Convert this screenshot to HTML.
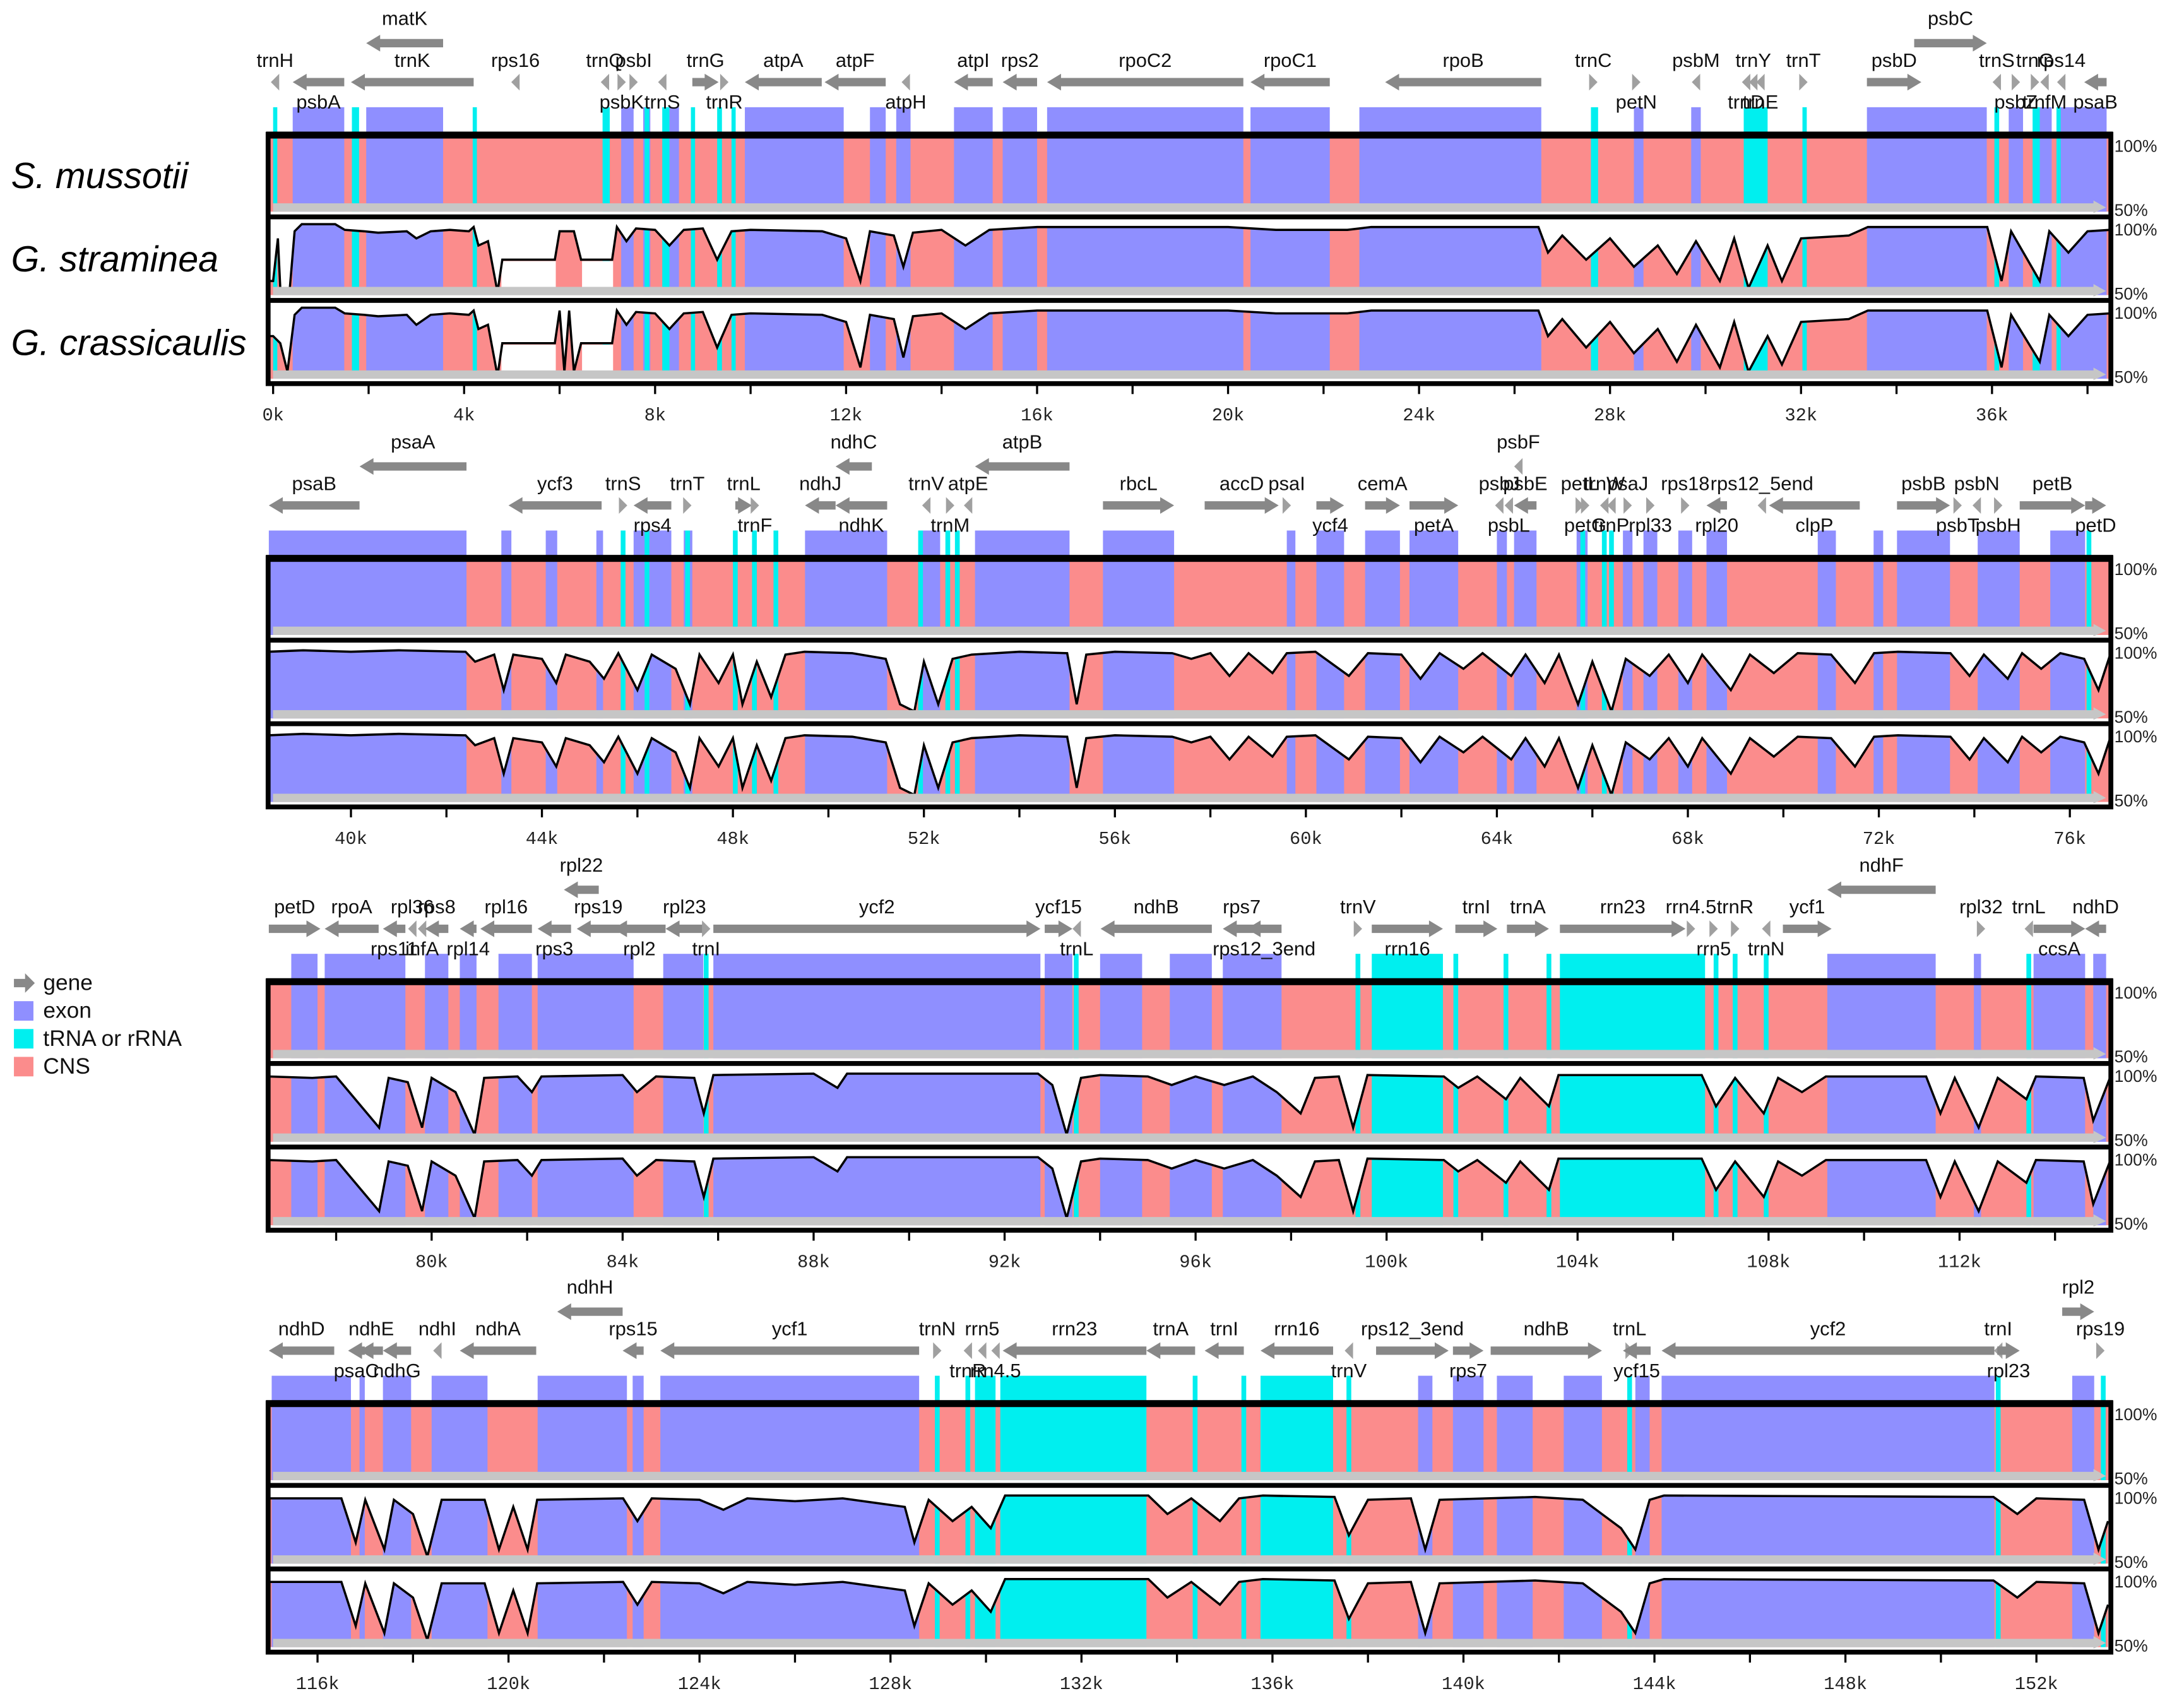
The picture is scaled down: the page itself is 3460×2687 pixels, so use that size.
<!DOCTYPE html>
<html><head><meta charset="utf-8"><style>
html,body{margin:0;padding:0;background:#fff;}
svg{display:block;font-family:"Liberation Sans",sans-serif;}
</style></head><body>
<svg id="chart" xmlns="http://www.w3.org/2000/svg" width="3460" height="2687" viewBox="0 0 1568 1218" preserveAspectRatio="none">
<g id="root"></g>
</svg>
<script>
const panelStart=[-0.09,38.28,76.59,114.98];
const panelTop=[96,400,704,1007];
const species=["S. mussotii","G. straminea","G. crassicaulis"];
const exons=[
[[0.41,1.49],[1.95,3.56],[7.29,7.55],[7.75,7.9],[8.3,8.5],[9.88,11.95],[12.5,12.83],[13.05,13.35],[14.26,15.07],[15.28,16.0],[16.21,20.32],[20.47,22.13],[22.75,26.56],[28.5,28.7],[29.7,29.9],[33.38,35.89],[36.35,36.65],[37.0,37.25],[37.43,38.4]],
[[38.28,42.42],[43.15,43.36],[44.08,44.32],[45.14,45.28],[45.92,46.71],[46.97,47.15],[49.51,51.23],[51.9,52.34],[53.07,55.05],[55.75,57.24],[59.6,59.78],[60.22,60.8],[61.24,61.97],[62.17,63.19],[64.0,64.21],[64.36,64.83],[65.67,65.9],[66.64,66.84],[67.07,67.36],[67.8,68.09],[68.39,68.82],[70.72,71.1],[71.89,72.09],[72.38,73.49],[74.07,74.95],[75.59,76.32]],
[[77.06,77.61],[77.76,79.45],[79.86,80.35],[80.59,80.94],[81.4,82.1],[82.22,84.23],[84.85,85.69],[85.9,92.75],[92.84,93.42],[94.0,94.88],[95.46,96.34],[96.57,97.8],[109.23,111.5],[112.3,112.45],[113.55,114.63],[114.8,115.07]],
[[115.04,116.7],[116.88,116.99],[117.37,117.96],[118.39,119.56],[120.61,122.48],[122.6,122.83],[123.18,128.6],[139.05,139.35],[139.78,140.42],[140.7,141.45],[142.1,142.9],[143.6,143.9],[144.15,151.12],[152.75,153.21]]
];
const trnas=[
[[0,0.08],[1.65,1.8],[4.18,4.26],[6.9,7.05],[7.78,7.88],[8.15,8.3],[8.75,8.82],[9.3,9.4],[9.6,9.68],[27.6,27.75],[30.8,31.3],[32.03,32.12],[36.05,36.15],[36.85,37.0],[37.35,37.42]],
[[45.65,45.75],[46.15,46.25],[47.0,47.1],[48.0,48.1],[48.4,48.5],[48.85,48.95],[51.88,51.98],[52.45,52.55],[52.65,52.75],[65.75,65.85],[66.2,66.3],[66.35,66.45],[76.35,76.45]],
[[85.7,85.8],[93.45,93.55],[99.35,99.45],[99.69,101.18],[101.4,101.5],[102.45,102.55],[103.35,103.45],[103.63,106.67],[106.85,106.95],[107.25,107.35],[107.9,108.0],[113.4,113.5]],
[[128.93,129.03],[129.57,129.67],[129.77,130.2],[130.3,133.36],[134.33,134.43],[135.35,135.45],[135.75,137.27],[137.55,137.65],[143.43,143.53],[151.15,151.25],[153.35,153.45]]
];
const genes=[
[["trnH",0,0.08,-1,'a'],["psbA",0.41,1.49,-1,'b'],["matK",1.95,3.56,-1,'t'],["trnK",1.63,4.2,-1,'a'],["rps16",5.0,5.15,-1,'a'],["trnQ",6.9,7.0,-1,'a'],["psbK",7.25,7.35,1,'b'],["psbI",7.5,7.6,1,'a'],["trnS",8.1,8.2,-1,'b'],["trnG",8.78,9.33,1,'a'],["trnR",9.4,9.5,1,'b'],["atpA",9.88,11.49,-1,'a'],["atpF",11.55,12.83,-1,'a'],["atpH",13.2,13.3,-1,'b'],["atpI",14.26,15.07,-1,'a'],["rps2",15.28,16.0,-1,'a'],["rpoC2",16.21,20.32,-1,'a'],["rpoC1",20.47,22.13,-1,'a'],["rpoB",23.29,26.56,-1,'a'],["trnC",27.6,27.7,1,'a'],["petN",28.5,28.6,1,'b'],["psbM",29.75,29.85,-1,'a'],["trnD",30.8,30.9,-1,'b'],["trnY",30.95,31.05,-1,'a'],["trnE",31.1,31.2,-1,'b'],["trnT",32.0,32.1,1,'a'],["psbD",33.38,34.52,1,'a'],["psbC",34.37,35.89,1,'t'],["trnS",36.05,36.15,-1,'a'],["psbZ",36.45,36.55,1,'b'],["trnG",36.85,36.95,1,'a'],["trnfM",37.05,37.15,-1,'b'],["rps14",37.4,37.5,-1,'a'],["psaB",37.93,38.4,-1,'b']],
[["psaB",38.28,40.18,-1,'a'],["psaA",40.18,42.42,-1,'t'],["ycf3",43.3,45.25,-1,'a'],["trnS",45.65,45.75,1,'a'],["rps4",45.92,46.71,-1,'b'],["trnT",46.94,47.15,1,'a'],["trnL",48.05,48.4,1,'a'],["trnF",48.42,48.5,1,'b'],["ndhJ",49.51,50.15,-1,'a'],["ndhC",50.15,50.91,-1,'t'],["ndhK",50.15,51.23,-1,'b'],["trnV",52.0,52.1,-1,'a'],["trnM",52.5,52.6,1,'b'],["atpE",52.78,53.07,-1,'a'],["atpB",53.07,55.05,-1,'t'],["rbcL",55.75,57.24,1,'a'],["accD",57.88,59.43,1,'a'],["psaI",59.55,59.65,1,'a'],["ycf4",60.22,60.8,1,'b'],["cemA",61.24,61.97,1,'a'],["petA",62.17,63.19,1,'b'],["psbF",64.4,64.5,-1,'t'],["psbJ",64.0,64.1,-1,'a'],["psbL",64.2,64.3,-1,'b'],["psbE",64.36,64.83,-1,'a'],["petL",65.67,65.8,1,'a'],["petG",65.8,65.9,1,'b'],["trnW",66.2,66.3,-1,'a'],["trnP",66.35,66.45,-1,'b'],["psaJ",66.64,66.84,1,'a'],["rpl33",67.07,67.36,1,'b'],["rps18",67.8,68.09,1,'a'],["rpl20",68.39,68.82,-1,'b'],["rps12_5end",69.5,69.6,-1,'a'],["clpP",69.7,71.6,-1,'b'],["psbB",72.38,73.49,1,'a'],["psbT",73.6,73.7,1,'b'],["psbN",74.0,74.1,-1,'a'],["psbH",74.45,74.55,1,'b'],["petB",74.95,76.32,1,'a'],["petD",76.32,76.76,1,'b']],
[["petD",76.59,77.67,1,'a'],["rpoA",77.76,78.89,-1,'a'],["rps11",78.98,79.45,-1,'b'],["rpl36",79.48,79.71,-1,'a'],["infA",79.75,79.85,-1,'b'],["rps8",79.86,80.35,-1,'a'],["rpl14",80.59,80.94,-1,'b'],["rpl16",81.02,82.1,-1,'a'],["rps3",82.22,82.92,-1,'b'],["rpl22",82.77,83.5,-1,'t'],["rps19",83.04,83.94,-1,'a'],["rpl2",83.8,84.9,-1,'b'],["rpl23",84.9,85.69,-1,'a'],["trnI",85.7,85.8,1,'b'],["ycf2",85.9,92.75,1,'a'],["ycf15",92.84,93.42,1,'a'],["trnL",93.46,93.56,-1,'b'],["ndhB",94.01,96.34,-1,'a'],["rps7",96.57,97.36,-1,'a'],["rps12_3end",97.07,97.8,-1,'b'],["trnV",99.35,99.45,1,'a'],["rrn16",99.69,101.18,1,'b'],["trnI",101.44,102.32,1,'a'],["trnA",102.52,103.4,1,'a'],["rrn23",103.63,106.26,1,'a'],["rrn4.5",106.3,106.45,1,'a'],["rrn5",106.8,106.9,1,'b'],["trnR",107.25,107.35,1,'a'],["trnN",107.9,108.0,-1,'b'],["ycf1",108.3,109.32,1,'a'],["ndhF",109.23,111.5,-1,'t'],["rpl32",112.4,112.5,1,'a'],["trnL",113.4,113.5,-1,'a'],["ccsA",113.55,114.63,1,'b'],["ndhD",114.63,115.07,-1,'a']],
[["ndhD",114.98,116.35,-1,'a'],["psaC",116.64,116.99,-1,'b'],["ndhE",116.88,117.37,-1,'a'],["ndhG",117.37,117.96,-1,'b'],["ndhI",118.39,118.63,-1,'a'],["ndhA",118.98,120.58,-1,'a'],["ndhH",121.02,122.39,-1,'t'],["rps15",122.39,122.83,-1,'a'],["ycf1",123.18,128.6,-1,'a'],["trnN",128.93,129.03,1,'a'],["trnR",129.57,129.67,-1,'b'],["rrn5",129.87,129.97,-1,'a'],["rrn4.5",130.15,130.25,-1,'b'],["rrn23",130.35,133.36,-1,'a'],["trnA",133.36,134.38,-1,'a'],["trnI",134.58,135.4,-1,'a'],["rrn16",135.75,137.27,-1,'a'],["trnV",137.55,137.65,-1,'b'],["rps12_3end",138.17,139.69,1,'a'],["rps7",139.78,140.42,1,'b'],["ndhB",140.57,142.9,1,'a'],["trnL",143.43,143.53,1,'a'],["ycf15",143.34,143.92,-1,'b'],["ycf2",144.15,151.12,-1,'a'],["trnI",151.15,151.25,-1,'a'],["rpl23",151.18,151.65,1,'b'],["rpl2",152.54,153.21,1,'t'],["rps19",153.21,153.47,1,'a']]
];
const stram1=[[-0.09,60],[0,60],[0.1,90],[0.15,55],[0.35,55],[0.45,95],[0.6,100],[1.3,100],[1.5,96],[1.9,95],[2.2,94],[2.8,95],[3.0,90],[3.3,95],[3.7,96],[4.1,95],[4.2,98],[4.3,85],[4.5,88],[4.7,52],[4.8,75],[5.9,75],[6.0,95],[6.3,95],[6.45,75],[7.1,75],[7.2,98],[7.4,88],[7.6,97],[8,96],[8.3,85],[8.6,96],[9,97],[9.3,75],[9.6,95],[10,96],[11.5,95],[12,90],[12.3,60],[12.5,95],[13,92],[13.2,70],[13.4,94],[14,96],[14.5,85],[15,96],[16,98],[20,98],[21,96],[22.5,96],[23,98],[26.5,98],[26.7,80],[27,92],[27.5,75],[28,90],[28.5,70],[29,85],[29.4,65],[29.8,88],[30.3,60],[30.6,90],[30.9,55],[31.3,85],[31.6,60],[32,90],[33,92],[33.4,98],[35.9,98],[36.2,60],[36.4,95],[37,60],[37.2,95],[37.6,80],[38,95],[38.47,96]];
const crass1=[[-0.09,80],[0,80],[0.15,75],[0.3,55],[0.45,95],[0.6,100],[1.3,100],[1.5,96],[1.9,95],[2.2,94],[2.8,95],[3.0,88],[3.3,95],[3.7,96],[4.1,95],[4.2,98],[4.3,85],[4.5,88],[4.7,52],[4.8,75],[5.9,75],[6.0,98],[6.1,55],[6.2,98],[6.3,55],[6.45,75],[7.1,75],[7.2,98],[7.4,88],[7.6,97],[8,96],[8.3,85],[8.6,96],[9,97],[9.3,72],[9.6,95],[10,96],[11.5,95],[12,90],[12.3,58],[12.5,95],[13,92],[13.2,65],[13.4,94],[14,96],[14.5,85],[15,96],[16,98],[20,98],[21,96],[22.5,96],[23,98],[26.5,98],[26.7,80],[27,92],[27.5,72],[28,90],[28.5,68],[29,85],[29.4,62],[29.8,88],[30.3,58],[30.6,90],[30.9,55],[31.3,80],[31.6,60],[32,90],[33,92],[33.4,98],[35.9,98],[36.2,58],[36.4,95],[37,62],[37.2,95],[37.6,80],[38,95],[38.47,96]];
const stram2=[[38.28,97],[39,98],[40,97],[41,98],[42.4,97],[42.6,90],[43,95],[43.2,70],[43.4,95],[44,92],[44.3,75],[44.5,95],[45,90],[45.3,78],[45.6,96],[46,70],[46.3,95],[46.8,85],[47.1,60],[47.3,95],[47.7,75],[48,95],[48.2,60],[48.5,90],[48.8,65],[49.1,95],[49.5,97],[50.5,96],[51.2,92],[51.5,60],[51.8,55],[52,90],[52.3,60],[52.6,92],[53,95],[54,97],[55,96],[55.2,60],[55.4,95],[56,97],[57.2,96],[57.6,92],[58,96],[58.4,80],[58.8,96],[59.3,82],[59.6,96],[60.2,97],[60.9,80],[61.3,96],[62,95],[62.4,78],[62.8,96],[63.3,85],[63.7,96],[64.3,80],[64.6,95],[65,75],[65.3,95],[65.7,60],[66,90],[66.4,55],[66.7,92],[67.2,80],[67.6,95],[68,75],[68.3,95],[68.9,70],[69.3,95],[69.8,82],[70.3,96],[71,95],[71.5,75],[71.9,96],[72.4,97],[73.5,96],[73.9,80],[74.2,95],[74.7,78],[75,96],[75.4,85],[75.8,96],[76.3,92],[76.6,70],[76.85,95]];
const crass2=stram2;
const stram3=[[76.59,96],[77.5,95],[78,96],[78.9,60],[79.1,95],[79.5,92],[79.8,60],[80,95],[80.5,85],[80.9,55],[81.1,95],[81.8,96],[82.1,85],[82.3,96],[84,97],[84.3,85],[84.7,96],[85.5,95],[85.7,70],[85.9,97],[88,98],[88.5,88],[88.7,98],[92.7,98],[93,90],[93.3,55],[93.6,95],[94,97],[95,96],[95.5,90],[96,96],[96.6,90],[97.2,96],[97.7,85],[98.2,70],[98.5,95],[99,96],[99.3,60],[99.6,97],[101.2,96],[101.5,88],[101.9,96],[102.5,80],[102.8,95],[103.4,75],[103.6,97],[106.6,97],[106.9,75],[107.3,95],[107.9,70],[108.2,95],[108.7,85],[109.2,96],[111.3,96],[111.6,70],[111.9,95],[112.4,60],[112.8,95],[113.4,80],[113.6,96],[114.6,95],[114.8,65],[115.15,95]];
const crass3=stram3;
const stram4=[[114.98,96],[116.5,96],[116.8,65],[117,95],[117.4,60],[117.6,95],[118,85],[118.3,55],[118.6,95],[119.5,95],[119.8,60],[120.1,90],[120.4,60],[120.6,95],[122.4,96],[122.7,80],[123,96],[124,95],[124.5,88],[125,96],[126,94],[127,96],[128.3,90],[128.5,65],[128.8,95],[129.3,80],[129.7,90],[130.1,75],[130.4,98],[133.4,98],[133.8,85],[134.3,96],[134.9,80],[135.3,96],[135.8,98],[137.3,97],[137.6,70],[138,95],[138.9,96],[139.2,60],[139.5,95],[140.5,96],[141.5,97],[142.5,95],[143.3,75],[143.6,60],[143.9,95],[144.2,98],[151.1,97],[151.6,85],[152,96],[153,95],[153.3,60],[153.5,80]];
const crass4=stram4;
const identity=[[stram1,crass1],[stram2,crass2],[stram3,crass3],[stram4,crass4]];
const gaps=[[[4.78,5.92],[6.47,7.12]],[],[],[]];
const tickStep=2, labelStep=4;

const NS="http://www.w3.org/2000/svg";
const root=document.getElementById('root');
const PX=34.28, X0=193, X1=1515;
const C_EXON="#8f8fff", C_CNS="#fb8c8c", C_TRNA="#00efef", C_GENE="#888888";
function el(tag,attrs,parent){const e=document.createElementNS(NS,tag);for(const k in attrs)e.setAttribute(k,attrs[k]);(parent||root).appendChild(e);return e;}
function xOf(p,k){return X0+(k-panelStart[p])*PX;}
function clampX(x){return Math.max(X0,Math.min(X1,x));}
function bandRect(p,a,b,y,h,fill,parent,minW){let x1=clampX(xOf(p,a)),x2=clampX(xOf(p,b));let w=Math.max(minW||0,x2-x1);return el('rect',{x:x1,y:y,width:w,height:h,fill:fill},parent);}

for(let p=0;p<4;p++){
  const T=panelTop[p];
  const g=el('g',{});
  
  
  const strip=el('g',{},g);
  
  
  exons[p].forEach(s=>{const r=bandRect(p,s[0],s[1],T-19,19,C_EXON,strip,1);});
  trnas[p].forEach(s=>{const r=bandRect(p,s[0],s[1],T-19,19,C_TRNA,strip,3);});
  genes[p].forEach(gn=>{
    const [name,a,b,dir,pos]=gn;
    const gy = pos==='t'? T-65 : T-37;
    let x1=clampX(xOf(p,a)), x2=clampX(xOf(p,b));
    const gg=el('g',{},g);
    
    
    const w=x2-x1, hl=Math.min(10,Math.max(5,w));
    if(w<=10){
      const cx=(x1+x2)/2;
      const pts= dir<0? [[cx-3,gy],[cx+3,gy-6],[cx+3,gy+6]] : [[cx+3,gy],[cx-3,gy-6],[cx-3,gy+6]];
      el('polygon',{points:pts.map(q=>q.join(',')).join(' '),fill:"#a0a0a0"},gg);
    } else if(dir<0){
      el('polygon',{points:`${x1},${gy} ${x1+hl},${gy-6} ${x1+hl},${gy-3} ${x2},${gy-3} ${x2},${gy+3} ${x1+hl},${gy+3} ${x1+hl},${gy+6}`,fill:C_GENE},gg);
    } else {
      el('polygon',{points:`${x2},${gy} ${x2-hl},${gy-6} ${x2-hl},${gy-3} ${x1},${gy-3} ${x1},${gy+3} ${x2-hl},${gy+3} ${x2-hl},${gy+6}`,fill:C_GENE},gg);
    }
    const ty = pos==='t'? T-78 : (pos==='a'? T-48 : T-18);
    const t=el('text',{x:(x1+x2)/2,y:ty,'font-size':14,'text-anchor':'middle',fill:'#111'},gg);
    t.textContent=name;
  });
  for(let r=0;r<3;r++){
    const rt=T+3+r*60, y100=rt+2, y50=rt+53;
    const rg=el('g',{},g);
    
    
    let clipId='c'+p+'_'+r;
    if(r>0){
      const data=identity[p][r-1];
      const yOf=v=>y50-(Math.max(50,Math.min(100,v))-50)/50*(y50-y100);
      const pts=data.map(d=>[clampX(xOf(p,d[0])),yOf(d[1])]);
      const cp=el('clipPath',{id:clipId},rg);
      el('polygon',{points:[[pts[0][0],y50],...pts,[pts[pts.length-1][0],y50]].map(q=>q.join(',')).join(' ')},cp);
      const fillG=el('g',{'clip-path':`url(#${clipId})`},rg);
      el('rect',{x:X0,y:y100-3,width:X1-X0,height:y50-y100+3,fill:C_CNS},fillG);
      exons[p].forEach(s=>bandRect(p,s[0],s[1],y100-3,y50-y100+3,C_EXON,fillG,1));
      trnas[p].forEach(s=>bandRect(p,s[0],s[1],y100-3,y50-y100+3,C_TRNA,fillG,3));
      gaps[p].forEach(s=>bandRect(p,s[0],s[1],yOf(75)+1,y50-yOf(75),'#fff',rg));
      const line=el('polyline',{points:pts.map(q=>q.join(',')).join(' '),fill:'none',stroke:'#000','stroke-width':1.6},rg);
      
      
    } else {
      el('rect',{x:X0,y:rt,width:X1-X0,height:y50-rt,fill:C_CNS},rg);
      exons[p].forEach(s=>bandRect(p,s[0],s[1],rt,y50-rt,C_EXON,rg,1));
      trnas[p].forEach(s=>bandRect(p,s[0],s[1],rt,y50-rt,C_TRNA,rg,3));
    }
    const gb=el('polygon',{points:`${X0+3},${y50-6} ${X1-12},${y50-6} ${X1-12},${y50-8} ${X1-3},${y50-3} ${X1-12},${y50+1} ${X1-12},${y50} ${X0+3},${y50}`,fill:'#c6c6c6'},rg);
    
    
    const t1=el('text',{x:1518,y:rt+10,'font-size':12,fill:'#222'},rg);t1.textContent='100%';
    const t2=el('text',{x:1518,y:rt+56,'font-size':12,fill:'#222'},rg);t2.textContent='50%';
    if(p===0){
      const sl=el('text',{x:8,y:rt+36,'font-size':26,'font-style':'italic',fill:'#000'},rg);
      
      
      sl.textContent=species[r];
    }
  }
  const box=el('rect',{x:X0-0.5,y:T+0.5,width:X1-X0+1,height:179,fill:'none',stroke:'#000','stroke-width':3.5},g);
  
  
  el('rect',{x:X0-2,y:T-1.5,width:X1-X0+4,height:5,fill:'#000'},g);
  el('rect',{x:X0,y:T+58,width:X1-X0,height:3.5,fill:'#000'},g);
  el('rect',{x:X0,y:T+118,width:X1-X0,height:3.5,fill:'#000'},g);
  const ax=el('g',{},g);
  
  
  const k0=Math.ceil(panelStart[p]/tickStep)*tickStep;
  for(let k=k0;xOf(p,k)<=X1;k+=tickStep){
    const x=xOf(p,k);
    el('line',{x1:x,x2:x,y1:T+181,y2:T+187,stroke:'#000','stroke-width':1.5},ax);
    if(Math.abs(k%labelStep)<1e-6){
      const t=el('text',{x:x,y:T+206,'font-size':13,'text-anchor':'middle','font-family':'Liberation Mono, monospace',fill:'#222'},ax);
      t.textContent=k+'k';
    }
  }
}
const lg=el('g',{});


const legendItems=[["gene",null],["exon",C_EXON],["tRNA or rRNA",C_TRNA],["CNS",C_CNS]];
legendItems.forEach((it,i)=>{
  const y=705+i*20;
  const e=el('g',{},lg);
  
  
  if(it[1]) el('rect',{x:10,y:y-6,width:14,height:14,fill:it[1]},e);
  else el('polygon',{points:`10,${y-2} 18,${y-2} 18,${y-6} 25,${y+1} 18,${y+8} 18,${y+4} 10,${y+4}`,fill:C_GENE},e);
  const t=el('text',{x:31,y:y+6,'font-size':16,fill:'#111'},e);t.textContent=it[0];
});
</script>
</body></html>
